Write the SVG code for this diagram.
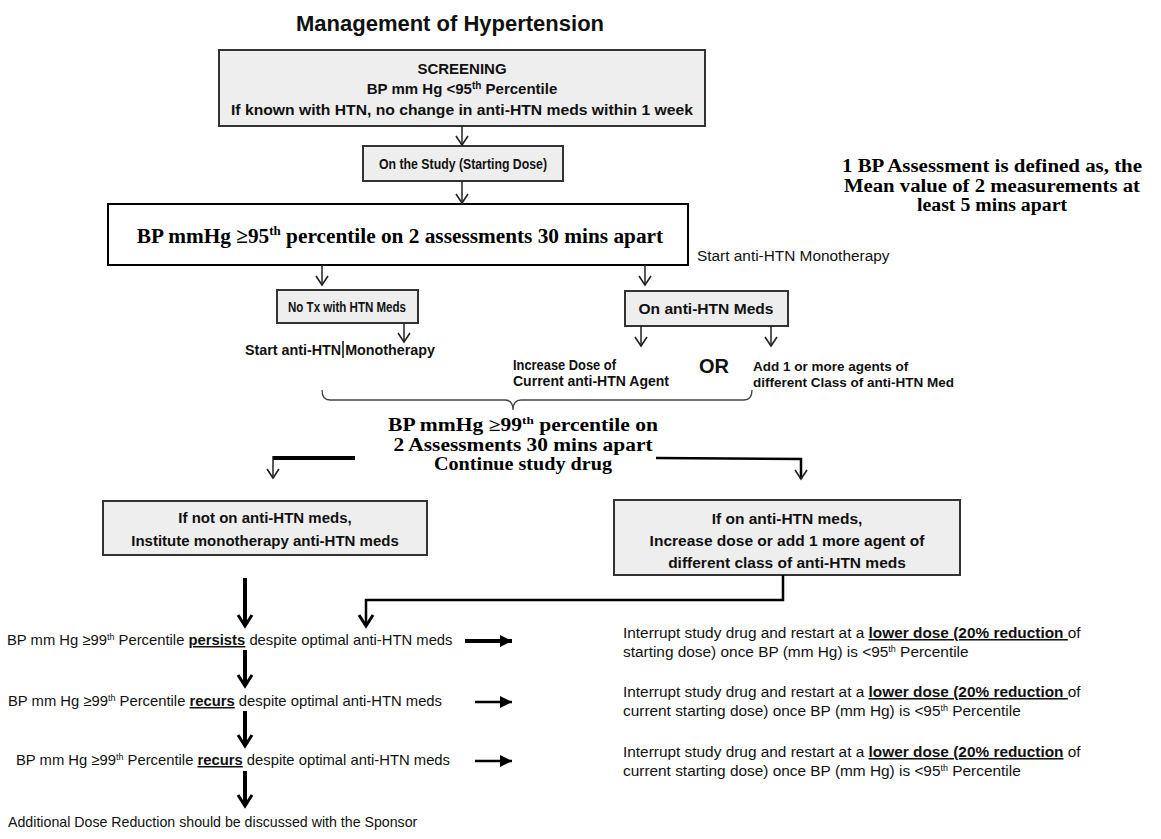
<svg xmlns="http://www.w3.org/2000/svg" width="1161" height="839" viewBox="0 0 1161 839">
<style>
.box{fill:#eeeeee;stroke:#333;stroke-width:2}
.wbox{fill:#ffffff;stroke:#000;stroke-width:2}
.n{font-family:"Liberation Sans",Arial,sans-serif;font-weight:bold;fill:#111}
.a{font-family:"Liberation Sans",Arial,sans-serif;fill:#111;font-size:14.8px}
.r{font-family:"Liberation Sans",Arial,sans-serif;fill:#111;font-size:15.4px}
.t{font-family:"Liberation Serif","Times New Roman",serif;font-weight:bold;fill:#000}
.thin{fill:none;stroke:#222;stroke-width:1.5}
.med{fill:none;stroke:#000;stroke-width:2.5}
.thick{fill:none;stroke:#000;stroke-width:4}
.u{text-decoration:underline;font-weight:bold}
</style>
<defs>
<marker id="v" markerUnits="userSpaceOnUse" markerWidth="16" markerHeight="16" viewBox="-12 -8 14 16" refX="0" refY="0" orient="auto">
<path d="M-9,-6 L0,0 L-9,6" fill="none" stroke="#222" stroke-width="1.6"/>
</marker>
<marker id="vb" markerUnits="userSpaceOnUse" markerWidth="20" markerHeight="20" viewBox="-14 -10 16 20" refX="0" refY="0" orient="auto">
<path d="M-11,-7 L0,0 L-11,7" fill="none" stroke="#000" stroke-width="3"/>
</marker>
<marker id="tri" markerUnits="userSpaceOnUse" markerWidth="20" markerHeight="20" viewBox="-14 -10 16 20" refX="0" refY="0" orient="auto">
<path d="M-12,-6 L0,0 L-12,6 Z" fill="#000"/>
</marker>
</defs>

<text x="450" y="31" text-anchor="middle" font-family="Liberation Sans, Arial, sans-serif" font-weight="bold" font-size="22" fill="#111">Management of Hypertension</text>

<g id="screening">
<rect class="box" x="219" y="50" width="486" height="76"/>
<text class="n" font-size="15" text-anchor="middle" x="462" y="74">SCREENING</text>
<text class="n" font-size="15" text-anchor="middle" x="462" y="94">BP mm Hg &lt;95<tspan font-size="10" dy="-5">th</tspan><tspan dy="5"> Percentile</tspan></text>
<text class="n" font-size="15" text-anchor="middle" x="462" y="115" textLength="462" lengthAdjust="spacingAndGlyphs">If known with HTN, no change in anti-HTN meds within 1 week</text>
</g>

<g id="study">
<rect class="box" x="363" y="146" width="200" height="35"/>
<text class="n" font-size="15" text-anchor="middle" x="463" y="169" textLength="168" lengthAdjust="spacingAndGlyphs">On the Study (Starting Dose)</text>
</g>

<g id="bp95">
<rect class="wbox" x="108" y="204" width="580" height="61"/>
<text class="t" font-size="21.3" text-anchor="middle" x="400" y="243">BP mmHg ≥95<tspan font-size="13" dy="-8">th</tspan><tspan dy="8"> percentile on 2 assessments 30 mins apart</tspan></text>
</g>

<g id="start-mono-note">
<text class="r" x="697" y="261">Start anti-HTN Monotherapy</text>
</g>

<g id="notx">
<rect class="box" x="277" y="290" width="141" height="33"/>
<text class="n" font-size="15" text-anchor="middle" x="347" y="312" textLength="118" lengthAdjust="spacingAndGlyphs">No Tx with HTN Meds</text>
</g>

<g id="onanti">
<rect class="box" x="625" y="291" width="163" height="35"/>
<text class="n" font-size="15" text-anchor="middle" x="706" y="314" textLength="135" lengthAdjust="spacingAndGlyphs">On anti-HTN Meds</text>
</g>

<g id="start-mono">
<text class="n" font-size="13.8" x="245" y="355" textLength="190" lengthAdjust="spacingAndGlyphs">Start anti-HTN Monotherapy</text>
<line x1="343" y1="341" x2="343" y2="358" stroke="#111" stroke-width="1.5"/>
</g>

<g id="increase">
<text class="n" font-size="13.8" x="513" y="370" textLength="103" lengthAdjust="spacingAndGlyphs">Increase Dose of</text>
<text class="n" font-size="13.8" x="513" y="386" textLength="156" lengthAdjust="spacingAndGlyphs">Current anti-HTN Agent</text>
</g>

<g id="or">
<text class="n" font-size="20" x="699" y="373">OR</text>
</g>

<g id="add">
<text class="n" font-size="13.5" x="753" y="371">Add 1 or more agents of</text>
<text class="n" font-size="13.5" x="753" y="387">different Class of anti-HTN Med</text>
</g>

<g id="bp99">
<text class="t" font-size="18" text-anchor="middle" x="523" y="431" textLength="270" lengthAdjust="spacingAndGlyphs">BP mmHg ≥99<tspan font-size="11" dy="-7">th</tspan><tspan dy="7"> percentile on</tspan></text>
<text class="t" font-size="18" text-anchor="middle" x="523" y="451" textLength="259" lengthAdjust="spacingAndGlyphs">2 Assessments 30 mins apart</text>
<text class="t" font-size="18" text-anchor="middle" x="523" y="470" textLength="178" lengthAdjust="spacingAndGlyphs">Continue study drug</text>
</g>

<g id="note">
<text class="t" font-size="18" text-anchor="middle" x="992" y="172" textLength="300" lengthAdjust="spacingAndGlyphs">1 BP Assessment is defined as, the</text>
<text class="t" font-size="18" text-anchor="middle" x="992" y="192" textLength="296" lengthAdjust="spacingAndGlyphs">Mean value of 2 measurements at</text>
<text class="t" font-size="18" text-anchor="middle" x="992" y="211" textLength="150" lengthAdjust="spacingAndGlyphs">least 5 mins apart</text>
</g>

<g id="notmeds">
<rect class="box" x="103" y="501" width="324" height="54"/>
<text class="n" font-size="15" text-anchor="middle" x="265" y="523">If not on anti-HTN meds,</text>
<text class="n" font-size="15" text-anchor="middle" x="265" y="546">Institute monotherapy anti-HTN meds</text>
</g>

<g id="onmeds">
<rect class="box" x="614" y="500" width="346" height="75"/>
<text class="n" font-size="15.5" text-anchor="middle" x="787" y="524">If on anti-HTN meds,</text>
<text class="n" font-size="15.5" text-anchor="middle" x="787" y="546">Increase dose or add 1 more agent of</text>
<text class="n" font-size="15.5" text-anchor="middle" x="787" y="568">different class of anti-HTN meds</text>
</g>

<g id="row1">
<text class="a" x="7" y="645">BP mm Hg ≥99<tspan font-size="9" dy="-5">th</tspan><tspan dy="5"> Percentile </tspan><tspan class="u">persists</tspan> despite optimal anti-HTN meds</text>
<text class="r" x="623" y="638">Interrupt study drug and restart at a <tspan class="u">lower dose (20% reduction </tspan>of</text>
<text class="r" x="623" y="657">starting dose) once BP (mm Hg) is &lt;95<tspan font-size="9" dy="-5">th</tspan><tspan dy="5"> Percentile</tspan></text>
</g>

<g id="row2">
<text class="a" x="8" y="706">BP mm Hg ≥99<tspan font-size="9" dy="-5">th</tspan><tspan dy="5"> Percentile </tspan><tspan class="u">recurs</tspan> despite optimal anti-HTN meds</text>
<text class="r" x="623" y="697">Interrupt study drug and restart at a <tspan class="u">lower dose (20% reduction </tspan>of</text>
<text class="r" x="623" y="716">current starting dose) once BP (mm Hg) is &lt;95<tspan font-size="9" dy="-5">th</tspan><tspan dy="5"> Percentile</tspan></text>
</g>

<g id="row3">
<text class="a" x="16" y="765">BP mm Hg ≥99<tspan font-size="9" dy="-5">th</tspan><tspan dy="5"> Percentile </tspan><tspan class="u">recurs</tspan> despite optimal anti-HTN meds</text>
<text class="r" x="623" y="757">Interrupt study drug and restart at a <tspan class="u">lower dose (20% reduction</tspan> of</text>
<text class="r" x="623" y="776">current starting dose) once BP (mm Hg) is &lt;95<tspan font-size="9" dy="-5">th</tspan><tspan dy="5"> Percentile</tspan></text>
</g>

<g id="final">
<text class="a" x="8" y="827" style="font-size:14.2px">Additional Dose Reduction should be discussed with the Sponsor</text>
</g>

<g id="connectors">
<line class="thin" x1="462" y1="126" x2="462" y2="145" marker-end="url(#v)"/>
<line class="thin" x1="462" y1="181" x2="462" y2="203" marker-end="url(#v)"/>
<line class="thin" x1="322" y1="265" x2="322" y2="285" marker-end="url(#v)"/>
<line class="thin" x1="645" y1="265" x2="645" y2="285" marker-end="url(#v)"/>
<line class="thin" x1="404" y1="323" x2="404" y2="342" marker-end="url(#v)"/>
<line class="thin" x1="641" y1="326" x2="641" y2="346" marker-end="url(#v)"/>
<line class="thin" x1="771" y1="326" x2="771" y2="346" marker-end="url(#v)"/>
<path d="M322,390 Q322,400 330,400 L505,400 Q513,400 513,410 Q513,400 521,400 L744,400 Q752,400 752,390" fill="none" stroke="#444" stroke-width="1.3"/>
<path class="thick" d="M355,458 L273,458"/>
<line class="thin" x1="273" y1="456" x2="273" y2="478" marker-end="url(#v)"/>
<path class="med" d="M656,458 L801,459 L801,479" marker-end="url(#v)"/>
<line class="thick" x1="245" y1="578" x2="245" y2="626" marker-end="url(#vb)"/>
<path class="med" d="M783,575 L783,600 L366,600 L366,626" marker-end="url(#vb)"/>
<line class="thick" x1="465" y1="641" x2="512" y2="641" marker-end="url(#tri)"/>
<line class="thick" x1="245" y1="650" x2="245" y2="686" marker-end="url(#vb)"/>
<line class="med" x1="475" y1="702" x2="512" y2="702" marker-end="url(#tri)"/>
<line class="thick" x1="245" y1="711" x2="245" y2="746" marker-end="url(#vb)"/>
<line class="med" x1="475" y1="761" x2="512" y2="761" marker-end="url(#tri)"/>
<line class="thick" x1="245" y1="771" x2="245" y2="806" marker-end="url(#vb)"/>
</g>
</svg>
